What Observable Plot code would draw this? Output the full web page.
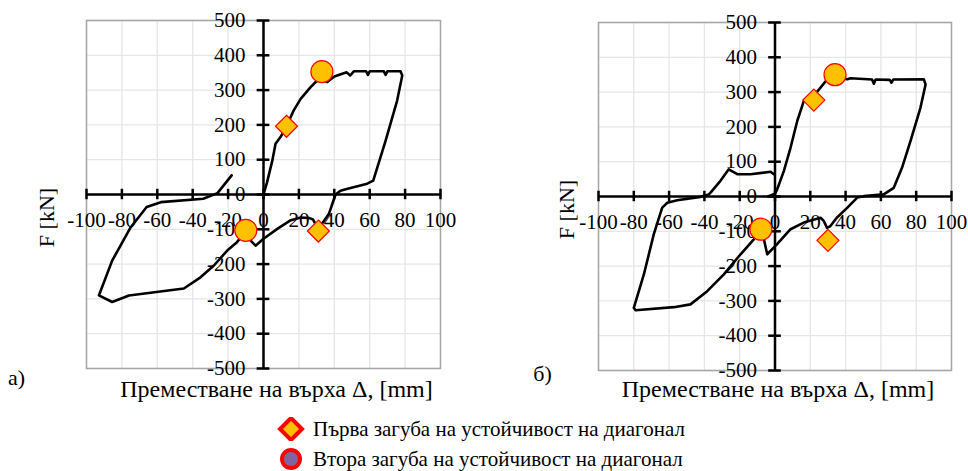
<!DOCTYPE html>
<html>
<head>
<meta charset="utf-8">
<script src="https://cdn.jsdelivr.net/npm/d3@7"></script>
<script src="https://cdn.jsdelivr.net/npm/@observablehq/plot@0.6"></script>
<style>
  html, body { margin: 0; padding: 0; background: #fff; }
  #root { position: relative; width: 968px; height: 471px; overflow: hidden; font-family: "Liberation Serif", "Times New Roman", serif; }
  #left { position: absolute; left: 0; top: 0; }
  #right { position: absolute; left: 510px; top: 0; }
  .leg { position: absolute; left: 276px; height: 24px; line-height: 24px; display: flex; align-items: center; font-size: 21px; color: #000; white-space: nowrap; }
  .leg svg { margin-right: 7px; display: block; }
</style>
</head>
<body>
<div id="root">
  <div id="left"></div>
  <div id="right"></div>
  <div class="leg" id="leg1" style="top:417px"></div>
  <div class="leg" id="leg2" style="top:447px"></div>
</div>
<script>
// ---------- data ----------
const xTicks = [-100, -80, -60, -40, -20, 0, 20, 40, 60, 80, 100];
const yTicks = [-500, -400, -300, -200, -100, 0, 100, 200, 300, 400, 500];
const xTitle = "Преместване на върха Δ, [mm]";
const yTitle = "F [kN]";
const panelLabels = ["а)", "б)"];
const legendLabels = ["Първа загуба на устойчивост на диагонал", "Втора загуба на устойчивост на диагонал"];

// Panel а) hysteresis curve
const aX = [0, 2, 5, 6.8, 9.6, 13, 17, 21, 26.5, 29.4, 32, 34, 36, 40, 47, 49, 51, 58, 59, 60, 68, 69, 70, 77.4, 78.4, 75.5, 69, 62, 58.6, 47, 43.5, 40.7, 37, 33, 31, 28, 26, 21, 15, 8, 0, -4.5, -8.3, -12, -15, -20.5, -28, -35.6, -45, -76, -85.5, -93, -85.5, -75, -66, -58, -34, -26, -18];
const aY = [0, 35, 98, 146, 165, 196, 241, 275, 308, 323, 333, 328, 323, 339, 351, 342, 354, 354, 344, 354, 354, 344, 354, 354, 342, 270, 155, 40, 31, 16, 11, 0, -55, -84, -100, -72, -68, -66, -75, -98, -127, -147, -127, -118, -137, -161, -204, -238, -270, -290, -309, -290, -190, -94, -36, -22, -12, 4, 55];
// Panel а) markers: first / second buckling of the diagonal
const aFirstX = [13, 31];
const aFirstY = [196, -105];
const aSecondX = [33, -10];
const aSecondY = [353, -103];

// Panel б) hysteresis curve
const bX = [-4, 0, 1.2, 5, 8.8, 12.6, 16.3, 22, 25.8, 29.6, 33, 36, 41, 42.8, 55, 56, 57, 65, 66, 67, 84.3, 85.3, 82.4, 76.8, 72, 67.3, 61.6, 50.3, 46.6, 41, 35, 31.4, 29.5, 27.6, 25.8, 16.3, 8.8, 1.2, -4.4, -6.3, -8, -10, -12, -19.5, -29, -38.4, -47.9, -57.3, -79, -80, -74.3, -68.7, -63.9, -61, -55.4, -42.2, -37.5, -36.5, -30.9, -26.2, -21.4, -13.9, -2.5, -0.7];
const bY = [0, 8, 20, 73, 140, 217, 274, 290, 313, 337, 345, 340, 337, 340, 336, 324, 336, 335, 327, 336, 337, 322, 255, 160, 83, 25, 6, 1, -3, -32, -61, -85, -90, -70, -61, -75, -94, -137, -166, -123, -100, -110, -123, -166, -224, -272, -310, -318, -327, -320, -224, -109, -32, -18, -11, -1, 6, 11, 45, 78, 64, 64, 71, 64];
const bFirstX = [22, 30];
const bFirstY = [277, -126];
const bSecondX = [34, -8];
const bSecondY = [350, -94];

// ---------- helpers ----------
const zip = (xs, ys) => xs.map((x, i) => ({x, y: ys[i]}));
const diamondSymbol = {
  draw(ctx, size) {
    const r = Math.sqrt(size / Math.PI);
    ctx.moveTo(0, -r); ctx.lineTo(r, 0); ctx.lineTo(0, r); ctx.lineTo(-r, 0); ctx.closePath();
  }
};
const FONT = "'Liberation Serif', 'Times New Roman', serif";
const YELLOW = "#FFC000", RED = "#FF0000";

function panel({curveX, curveY, firstX, firstY, secondX, secondY, width, marginLeft, marginRight, marginTop, marginBottom, label, labelDx, labelDy, yTitleDx, yTitleDy, xTitleDx, xTitleDy}) {
  const curve = zip(curveX, curveY);
  const first = zip(firstX, firstY);
  const second = zip(secondX, secondY);
  const txt = {fill: "#000", fontFamily: FONT};
  return Plot.plot({
    width, height: 420, marginLeft, marginRight, marginTop, marginBottom,
    x: {domain: [-100, 100], axis: null},
    y: {domain: [-500, 500], axis: null},
    style: {fontFamily: FONT, fontSize: "20px", color: "#000", background: "transparent", overflow: "visible"},
    marks: [
      Plot.ruleX(xTicks, {x: d => d, stroke: "#e6e6e6", strokeWidth: 1.3}),
      Plot.ruleY(yTicks, {y: d => d, stroke: "#e6e6e6", strokeWidth: 1.3}),
      Plot.frame({stroke: "#a6a6a6", strokeWidth: 1.5}),
      Plot.ruleY([0], {stroke: "#000", strokeWidth: 2.5}),
      Plot.ruleX([0], {stroke: "#000", strokeWidth: 2.5}),
      Plot.ruleX(xTicks, {x: d => d, y1: -15, y2: 15, stroke: "#000", strokeWidth: 2.5}),
      Plot.ruleY(yTicks, {y: d => d, x1: -3.6, x2: 3.6, stroke: "#000", strokeWidth: 2.5}),
      Plot.text(xTicks, {x: d => d, y: 0, text: d => String(d), dy: 26, textAnchor: "middle", fontSize: 21, ...txt}),
      Plot.text(yTicks, {x: 0, y: d => d, text: d => String(d), dx: -18, textAnchor: "end", fontSize: 21, ...txt}),
      Plot.line(curve, {x: "x", y: "y", stroke: "#000", strokeWidth: 2.6, strokeLinejoin: "round", strokeLinecap: "round"}),
      Plot.dot(first, {x: "x", y: "y", symbol: diamondSymbol, r: 11, fill: YELLOW, stroke: RED, strokeWidth: 1.2}),
      Plot.dot(second, {x: "x", y: "y", symbol: "circle", r: 11, fill: YELLOW, stroke: RED, strokeWidth: 1.2}),
      Plot.text([yTitle], {frameAnchor: "left", text: d => d, rotate: -90, dx: yTitleDx, dy: yTitleDy, textAnchor: "middle", lineAnchor: "middle", fontSize: 22, ...txt}),
      Plot.text([xTitle], {frameAnchor: "bottom", text: d => d, dx: xTitleDx, dy: xTitleDy, textAnchor: "middle", lineAnchor: "middle", fontSize: 24, ...txt}),
      Plot.text([label], {frameAnchor: "bottom-left", text: d => d, dx: labelDx, dy: labelDy, textAnchor: "middle", lineAnchor: "middle", fontSize: 22, ...txt})
    ]
  });
}

document.getElementById("left").append(panel({
  curveX: aX, curveY: aY, firstX: aFirstX, firstY: aFirstY, secondX: aSecondX, secondY: aSecondY,
  width: 480, marginLeft: 86, marginRight: 40, marginTop: 20, marginBottom: 52,
  label: panelLabels[0], labelDx: -70, labelDy: 9,
  yTitleDx: -40, yTitleDy: 23, xTitleDx: 13, xTitleDy: 21
}));
document.getElementById("right").append(panel({
  curveX: bX, curveY: bY, firstX: bFirstX, firstY: bFirstY, secondX: bSecondX, secondY: bSecondY,
  width: 458, marginLeft: 88, marginRight: 17, marginTop: 22, marginBottom: 50,
  label: panelLabels[1], labelDx: -56, labelDy: 3,
  yTitleDx: -32, yTitleDy: 13, xTitleDx: 3, xTitleDy: 19
}));

// ---------- legend ----------
const ns = "http://www.w3.org/2000/svg";
function swatch(kind) {
  const svg = document.createElementNS(ns, "svg");
  svg.setAttribute("width", 30); svg.setAttribute("height", 24);
  svg.setAttribute("viewBox", "0 3 30 24");
  const el = document.createElementNS(ns, kind === "diamond" ? "path" : "circle");
  if (kind === "diamond") {
    el.setAttribute("d", "M15,4L26,15L15,26L4,15Z");
    el.setAttribute("fill", YELLOW);
  } else {
    el.setAttribute("cx", 15); el.setAttribute("cy", 15); el.setAttribute("r", 9);
    el.setAttribute("fill", "#8064A2");
  }
  el.setAttribute("stroke", RED); el.setAttribute("stroke-width", 4); el.setAttribute("stroke-linejoin", "miter");
  svg.append(el);
  return svg;
}
const l1 = document.getElementById("leg1");
l1.append(swatch("diamond"), document.createTextNode(legendLabels[0]));
const l2 = document.getElementById("leg2");
l2.append(swatch("circle"), document.createTextNode(legendLabels[1]));
</script>
</body>
</html>
